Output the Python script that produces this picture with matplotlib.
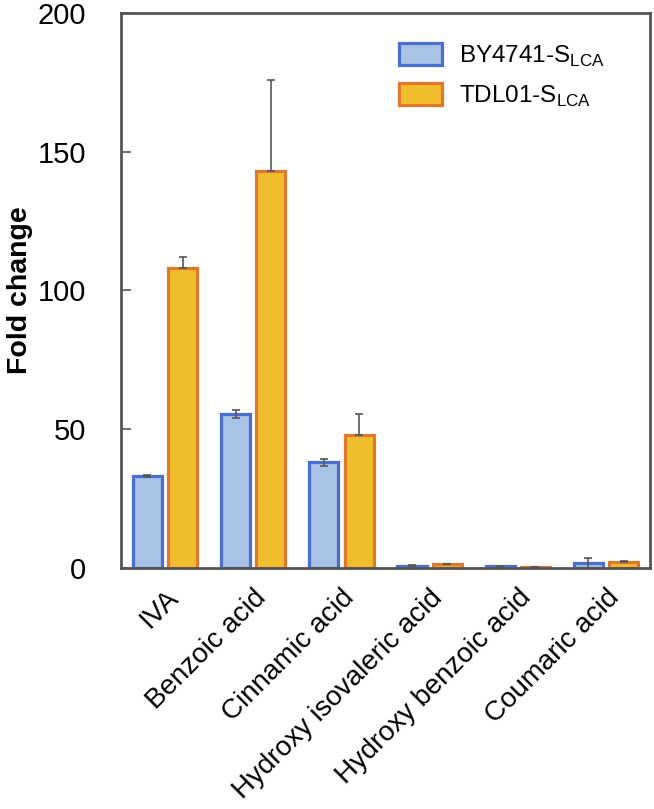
import matplotlib
matplotlib.use("Agg")
import matplotlib.pyplot as plt
import numpy as np

plt.rcParams['font.family'] = ['Liberation Sans', 'DejaVu Sans']

categories = ["IVA", "Benzoic acid", "Cinnamic acid", "Hydroxy isovaleric acid",
              "Hydroxy benzoic acid", "Coumaric acid"]
by4741 = [33.2, 55.4, 38.1, 0.7, 0.6, 1.8]
by4741_err = [0.4, 1.5, 1.2, 0.3, 0.2, 1.8]
tdl01 = [108.0, 143.0, 48.0, 1.3, 0.4, 2.2]
tdl01_err = [4.0, 33.0, 7.5, 0.2, 0.1, 0.3]
series_labels = ["BY4741-S$_{\\mathregular{LCA}}$", "TDL01-S$_{\\mathregular{LCA}}$"]
yticks = [0, 50, 100, 150, 200]

fig = plt.figure(figsize=(6.54, 8.09), dpi=100)
ax = fig.add_axes([0.185, 0.298, 0.809, 0.686])

x = np.arange(len(categories))
w = 0.33
off = 0.2
blue_fill, blue_edge = "#A8C3E6", "#4A6FD0"
or_fill, or_edge = "#F0BE2C", "#E0792E"
errc = "#555555"

ax.bar(x - off, by4741, w, color=blue_fill, edgecolor=blue_edge, linewidth=2.3,
       label=series_labels[0], zorder=2)
ax.bar(x + off, tdl01, w, color=or_fill, edgecolor=or_edge, linewidth=2.3,
       label=series_labels[1], zorder=2)
ax.errorbar(x - off, by4741, yerr=by4741_err, fmt='none', ecolor=errc,
            elinewidth=1.2, capsize=3.2, capthick=1.2, zorder=3)
ax.errorbar(x + off, tdl01, yerr=[np.zeros(len(tdl01)), tdl01_err], fmt='none',
            ecolor=errc, elinewidth=1.2, capsize=3.2, capthick=1.2, zorder=3)

ax.set_xlim(-0.5, len(categories) - 0.5)
ax.set_ylim(0, 200)
ax.set_yticks(yticks)
ax.tick_params(axis='y', direction='in', length=7, width=1.2, color="#555555",
               labelsize=21, pad=25)
ax.set_xticks(x)
ax.set_xticklabels(categories, rotation=45, ha='right', rotation_mode='anchor',
                   fontsize=20)
ax.tick_params(axis='x', length=0, pad=12)
for s in ax.spines.values():
    s.set_color("#555555")
    s.set_linewidth(2)
ax.set_ylabel("Fold change", fontsize=20.5, fontweight='bold', va='center')
ax.yaxis.set_label_coords(-0.19, 0.5)

leg = ax.legend(loc='upper right', bbox_to_anchor=(0.955, 0.985), frameon=False,
                fontsize=17.5, handlelength=1.75, handleheight=1.0, handletextpad=0.7,
                labelspacing=0.6)

fig.savefig("out.png", dpi=100)
